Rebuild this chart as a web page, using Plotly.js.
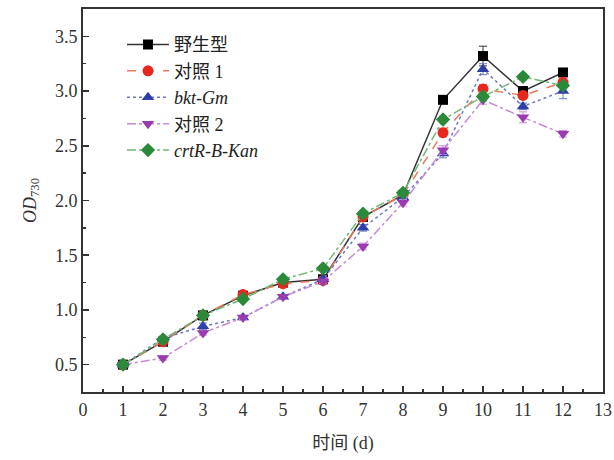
<!DOCTYPE html>
<html>
<head>
<meta charset="utf-8">
<script src="https://cdn.plot.ly/plotly-3.0.1.min.js"></script>
<style>html,body{margin:0;padding:0;background:#fff;}#chart{width:614px;height:460px;}</style>
</head>
<body>
<div id="chart"></div>
<script>
const days = [1,2,3,4,5,6,7,8,9,10,11,12];
const seriesNames = ['野生型', '对照 1', '<i>bkt-Gm</i>', '对照 2', '<i>crtR-B-Kan</i>'];
const wildType = [0.50,0.71,0.95,1.13,1.25,1.28,1.85,2.05,2.92,3.32,3.00,3.17];
const control1 = [0.50,0.71,0.95,1.14,1.24,1.27,1.85,2.05,2.62,3.02,2.96,3.08];
const bktGm    = [0.50,0.74,0.85,0.93,1.12,1.28,1.75,2.03,2.43,3.20,2.86,3.00];
const control2 = [0.50,0.56,0.79,0.93,1.12,1.26,1.58,1.98,2.46,2.92,2.76,2.61];
const crtRBKan = [0.50,0.73,0.95,1.10,1.28,1.38,1.88,2.07,2.74,2.95,3.13,3.05];
const errWild  = [0.01,0.02,0.02,0.02,0.02,0.02,0.03,0.03,0.03,0.09,0.03,0.03];
const errC1    = [0.01,0.02,0.02,0.02,0.02,0.02,0.03,0.03,0.04,0.04,0.03,0.03];
const errBkt   = [0.01,0.02,0.03,0.02,0.02,0.02,0.03,0.03,0.04,0.05,0.03,0.07];
const errC2    = [0.01,0.02,0.02,0.02,0.02,0.02,0.03,0.03,0.04,0.04,0.05,0.03];
const errCrt   = [0.01,0.02,0.02,0.02,0.02,0.02,0.03,0.03,0.03,0.04,0.03,0.03];

const values = [wildType, control1, bktGm, control2, crtRBKan];
const errs = [errWild, errC1, errBkt, errC2, errCrt];
const markerColors = ['#000000','#e8281e','#2e3fa6','#9b3bb0','#2a8a3a'];
const lineColors = ['#333333','#ec7a5c','#6b78c4','#c88ad6','#72b872'];
const symbols = ['square','circle','triangle-up','triangle-down','diamond'];
const dashes = ['solid','dash','dot','dashdot','dashdot'];
const sizes = [10,11,11,11,11];

const traces = values.map((v,i)=>({
  x: days, y: v, name: seriesNames[i], type: 'scatter', mode: 'lines+markers',
  legendgroup: 'g'+i,
  line: {color: lineColors[i], width: 1.5, dash: dashes[i]},
  marker: {color: markerColors[i], symbol: symbols[i], size: sizes[i]},
  error_y: {type: 'data', array: errs[i], visible: true, color: lineColors[i], thickness: 1, width: 4}
}));

const fontFam = '"Liberation Serif", "Times New Roman", "Noto Sans CJK SC", serif';
const layout = {
  width: 614, height: 460,
  margin: {l: 83, r: 11, t: 9, b: 68},
  paper_bgcolor: '#fff', plot_bgcolor: '#fff',
  font: {family: fontFam, size: 17, color: '#333'},
  showlegend: true,
  legend: {x: 0.075, y: 0.955, xanchor: 'left', yanchor: 'top', bgcolor: 'rgba(0,0,0,0)',
           itemwidth: 42, traceorder: 'grouped', tracegroupgap: 0,
           font: {family: fontFam, size: 18, color: '#222'}},
  xaxis: {
    range: [0, 13], tickmode: 'linear', tick0: 0, dtick: 1,
    ticks: 'inside', ticklen: 6, tickwidth: 1.5, tickcolor: '#333',
    minor: {ticks: 'inside', dtick: 0.5, ticklen: 3, tickwidth: 1.5, tickcolor: '#333'},
    showline: true, linecolor: '#333', linewidth: 2, mirror: true,
    showgrid: false, zeroline: false,
    tickfont: {family: fontFam, size: 18, color: '#333'},
    title: {text: '时间 (d)', font: {family: fontFam, size: 18, color: '#333'}, standoff: 18}
  },
  yaxis: {
    range: [0.25, 3.75], tickmode: 'linear', tick0: 0.5, dtick: 0.5, tickformat: '.1f',
    ticks: 'inside', ticklen: 6, tickwidth: 1.5, tickcolor: '#333',
    minor: {ticks: 'inside', dtick: 0.25, ticklen: 3, tickwidth: 1.5, tickcolor: '#333'},
    showline: true, linecolor: '#333', linewidth: 2, mirror: true,
    showgrid: false, zeroline: false,
    tickfont: {family: fontFam, size: 18, color: '#333'},
    title: {text: '<i>OD</i><sub>730</sub>', font: {family: fontFam, size: 18, color: '#333'}, standoff: 14}
  }
};

Plotly.newPlot('chart', traces, layout, {displayModeBar: false, staticPlot: true});
</script>
</body>
</html>
